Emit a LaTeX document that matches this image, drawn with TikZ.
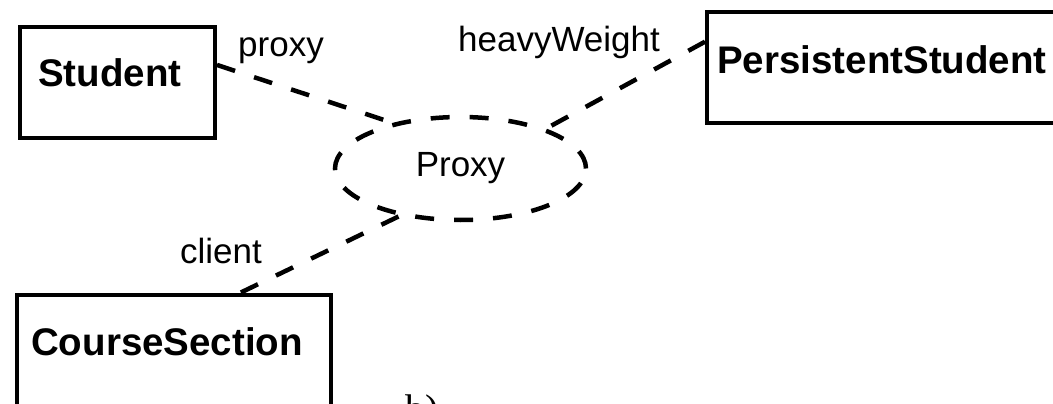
\documentclass[tikz,border=0pt]{standalone}
\usepackage{fontspec}
\newfontfamily\diagsans{Liberation Sans}
\newfontfamily\diagserif{Liberation Serif}
\usetikzlibrary{shapes.geometric}
\begin{document}
\begin{tikzpicture}[x=1pt,y=-1pt,
  classbox/.style={draw, line width=4pt, rectangle, inner sep=0pt},
  classname/.style={font=\diagsans\bfseries\fontsize{38.5}{44}\selectfont, anchor=base west, inner sep=0pt},
  rolename/.style={font=\diagsans\fontsize{35}{40}\selectfont, anchor=base west, inner sep=0pt},
  collab/.style={draw, ellipse, line width=4.5pt, dash pattern=on 19pt off 20pt, inner sep=0pt,
    font=\diagsans\fontsize{35}{40}\selectfont},
  role/.style={line width=4.5pt, dash pattern=on 19pt off 20pt}]
\clip (0,0) rectangle (1053,404);

% classes
\node[classbox, minimum width=195pt, minimum height=111pt] (student) at (117.5,82.5) {};
\node[classname] (studentname) at (38,87) {Student};
\node[classbox, minimum width=363pt, minimum height=111pt] (persistent) at (888.5,67.5) {};
\node[classname] (persistentname) at (717,74) {PersistentStudent};
\node[classbox, minimum width=314pt, minimum height=311pt] (section) at (174,450) {};
\node[classname] (sectionname) at (31,355) {CourseSection};

% collaboration
\node[collab, minimum width=251pt, minimum height=103pt] (proxy) at (460.5,168.5) {Proxy};

% roles
\draw[role] (student.10) -- (proxy.146);
\draw[role] (persistent.172) -- (proxy.25);
\draw[role] (section.67) -- (proxy.218);

\node[rolename] (proxylabel) at (238,57) {proxy};
\node[rolename] (heavylabel) at (458,52) {heavyWeight};
\node[rolename] (clientlabel) at (180,263) {client};

% caption
\node[font=\diagserif\fontsize{40}{44}\selectfont, anchor=base west, inner sep=0pt] (caption) at (405,422) {b)};
\end{tikzpicture}
\end{document}
